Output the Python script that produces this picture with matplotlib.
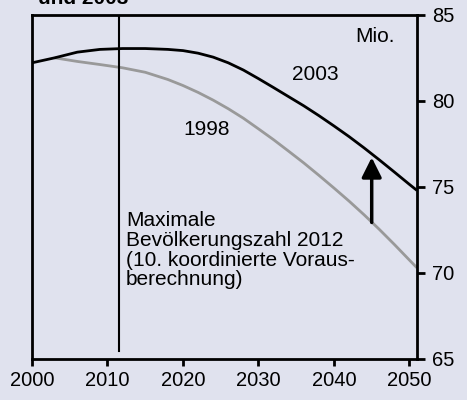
import matplotlib
matplotlib.use("Agg")
import matplotlib.pyplot as plt

plt.rcParams['font.family'] = ['Liberation Sans', 'DejaVu Sans']

# Data (Mio. inhabitants)
years_2003 = [2000, 2003, 2006, 2009, 2012, 2015, 2018, 2020, 2022, 2024, 2026, 2028, 2030,
              2032, 2034, 2036, 2038, 2040, 2042, 2044, 2046, 2048, 2050, 2051]
pop_2003 = [82.22, 82.51, 82.84, 83.0, 83.05, 83.05, 83.0, 82.93, 82.78, 82.55, 82.22, 81.8,
            81.3, 80.78, 80.25, 79.72, 79.15, 78.55, 77.93, 77.27, 76.58, 75.87, 75.15, 74.8]
years_1998 = [2003, 2006, 2009, 2012, 2015, 2018, 2020, 2022, 2024, 2026, 2028, 2030,
              2032, 2034, 2036, 2038, 2040, 2042, 2044, 2046, 2048, 2050, 2051]
pop_1998 = [82.51, 82.3, 82.12, 81.93, 81.67, 81.25, 80.9, 80.5, 80.05, 79.55, 79.0, 78.38,
            77.75, 77.08, 76.4, 75.68, 74.94, 74.18, 73.38, 72.54, 71.66, 70.75, 70.3]
xticks = [2000, 2010, 2020, 2030, 2040, 2050]
yticks = [65, 70, 75, 80, 85]
peak_year = 2011.5
arrow_year = 2045
arrow_from = 72.94
arrow_to = 76.72
note_lines = ['Maximale', 'Bevölkerungszahl 2012',
              '(10. koordinierte Voraus-', 'berechnung)']
note_baselines = [72.71, 71.58, 70.41, 69.31]

bg = '#e0e2ee'
fig = plt.figure(figsize=(4.67, 4.0), dpi=100, facecolor=bg)
ax = fig.add_axes([32/467, 1-359/400, 385/467, (359-15)/400], facecolor=bg)

ax.plot(years_1998, pop_1998, color='#999999', lw=2.0, solid_capstyle='butt',
        solid_joinstyle='round')
ax.plot(years_2003, pop_2003, color='black', lw=2.0, solid_capstyle='butt',
        solid_joinstyle='round')

ax.plot([peak_year, peak_year], [85, 65.45], color='black', lw=1.5)

ax.annotate('', xy=(arrow_year, arrow_to), xytext=(arrow_year, arrow_from),
            arrowprops=dict(arrowstyle='-|>,head_length=12,head_width=6', mutation_scale=1,
                            lw=2.5, color='black', shrinkA=0, shrinkB=0))

ax.set_xlim(2000, 2051)
ax.set_ylim(65, 85)
ax.set_xticks(xticks)
ax.set_yticks(yticks)
ax.yaxis.tick_right()
for s in ax.spines.values():
    s.set_linewidth(2.0)
ax.tick_params(axis='x', direction='out', length=5, width=2, labelsize=14.5, pad=4)
ax.tick_params(axis='y', direction='out', length=6, width=2, labelsize=14.5, pad=5)

fs = 15
ax.text(395/467, 1-36/400, 'Mio.', transform=fig.transFigure, ha='right', va='center',
        fontsize=fs)
ax.text(2034.4, 81.2, '2003', ha='left', va='baseline', fontsize=fs)
ax.text(2020.0, 78.0, '1998', ha='left', va='baseline', fontsize=fs)
for line, yb in zip(note_lines, note_baselines):
    ax.text(2012.45, yb, line, ha='left', va='baseline', fontsize=fs)

fig.text(38/467, 1-4/400, 'und 2003', ha='left', va='baseline', fontsize=15,
         fontweight='bold')

fig.savefig('out.png', dpi=100, facecolor=bg)
